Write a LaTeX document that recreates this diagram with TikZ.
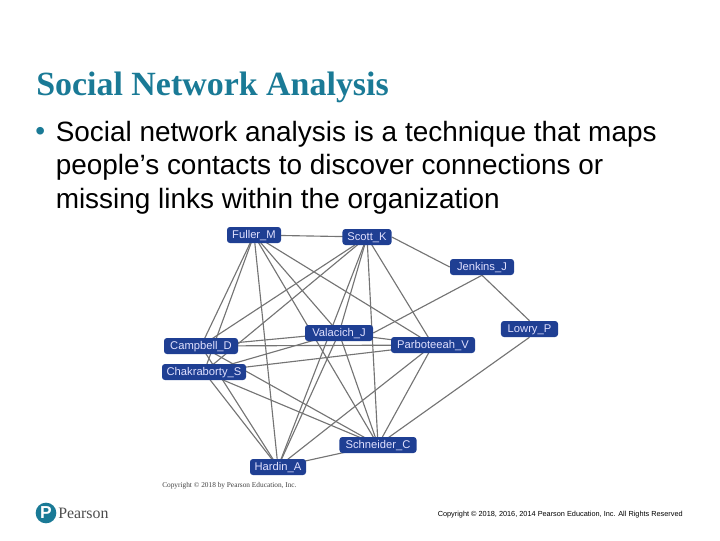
\documentclass[tikz,border=0pt]{standalone}
\usepackage{fontspec}
\setmainfont{Liberation Sans}
\newfontfamily\serifbold{Liberation Serif}
\usetikzlibrary{backgrounds}
\definecolor{titleteal}{HTML}{1A7A96}
\definecolor{netblue}{HTML}{1F3F93}
\definecolor{edgegray}{HTML}{747474}
\definecolor{pearsonteal}{HTML}{1A7A96}
\tikzset{
  person/.style={draw=none,fill=netblue,rounded corners=2.2pt,text=white!88!blue,font=\fontsize{8.4pt}{9pt}\selectfont,inner sep=0pt,minimum height=12pt,text height=6pt,text depth=1.5pt,anchor=center},
  tie/.style={draw=edgegray,line width=0.85pt},
  bodytext/.style={anchor=base west,inner sep=0pt,font=\fontsize{20.95pt}{24pt}\selectfont,text=black}
}
\begin{document}
\begin{tikzpicture}[x=0.75pt,y=-0.75pt]
\useasboundingbox (0,0) rectangle (720,540);
\node[anchor=base west,inner sep=0pt,text=titleteal,font=\serifbold\bfseries\fontsize{25.45pt}{28pt}\selectfont] (title) at (36,95) {Social Network Analysis};
\node[anchor=base west,inner sep=0pt,text=titleteal,font=\fontsize{21pt}{24pt}\selectfont] (bullet) at (35,140) {•};
\node[bodytext] (l1) at (55.5,141) {Social network analysis is a technique that maps};
\node[bodytext] (l2) at (55.5,174.5) {people’s contacts to discover connections or};
\node[bodytext] (l3) at (55.5,208) {missing links within the organization};
\node[person,minimum width=40.5pt] (fuller) at (254,235) {Fuller\_M};
\node[person,minimum width=36.8pt] (scott) at (367,237) {Scott\_K};
\node[person,minimum width=48pt] (jenkins) at (482,267) {Jenkins\_J};
\node[person,minimum width=42.8pt] (lowry) at (529.5,329) {Lowry\_P};
\node[person,minimum width=51pt] (valacich) at (339,333) {Valacich\_J};
\node[person,minimum width=63pt] (parbo) at (433,345) {Parboteeah\_V};
\node[person,minimum width=55.5pt] (campbell) at (201,346) {Campbell\_D};
\node[person,minimum width=63pt] (chakra) at (204,372) {Chakraborty\_S};
\node[person,minimum width=57.8pt] (schneider) at (378,445) {Schneider\_C};
\node[person,minimum width=42pt] (hardin) at (278,467) {Hardin\_A};
\begin{scope}[on background layer]
\foreach \a/\b in {fuller/scott,fuller/campbell,fuller/chakra,fuller/hardin,fuller/valacich,fuller/schneider,fuller/parbo,
 scott/campbell,scott/chakra,scott/valacich,scott/hardin,scott/schneider,scott/parbo,
 valacich/parbo,valacich/campbell,valacich/chakra,valacich/schneider,valacich/hardin,
 parbo/campbell,parbo/chakra,parbo/schneider,parbo/hardin,
 campbell/hardin,campbell/schneider,chakra/hardin,chakra/schneider,schneider/hardin}
 \draw[tie] (\a.center) -- (\b.center);
\draw[tie] (scott.east) -- (jenkins.west);
\draw[tie] (jenkins.south) -- (valacich.east);
\draw[tie] (jenkins.south) -- (lowry.north);
\draw[tie] (lowry.south) -- (schneider.center);
\end{scope}
\node[anchor=west,inner sep=0pt,font=\serifbold\fontsize{5.5pt}{6pt}\selectfont,text=black!75] (figcopy) at (162,485.5) {Copyright © 2018 by Pearson Education, Inc.};
\node[circle,fill=pearsonteal,minimum size=15.5pt,inner sep=0pt,text=white,font=\bfseries\fontsize{13pt}{14pt}\selectfont] (logo) at (46,513) {P};
\node[anchor=west,inner sep=0pt,text=black!70,font=\serifbold\fontsize{11.9pt}{12pt}\selectfont] (brand) at (58,513.5) {Pearson};
\node[anchor=east,inner sep=0pt,text=black,font=\fontsize{5.5pt}{6pt}\selectfont] (rights) at (683,514.5) {Copyright © 2018, 2016, 2014 Pearson Education, Inc. All Rights Reserved};
\end{tikzpicture}
\end{document}
